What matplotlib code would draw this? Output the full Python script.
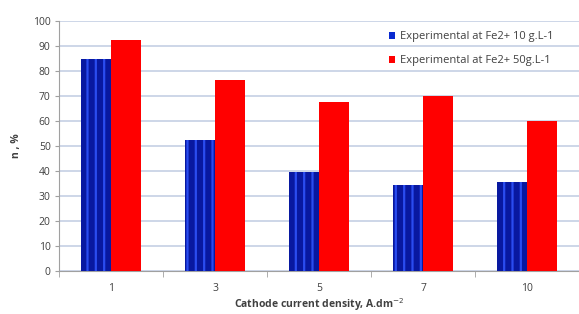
import matplotlib
matplotlib.use("Agg")
import matplotlib.pyplot as plt
import numpy as np
from matplotlib.patches import Patch

categories = ["1", "3", "5", "7", "10"]
fe10 = [85, 52.5, 39.5, 34.5, 35.5]
fe50 = [92.5, 76.5, 67.5, 70, 60]
labels = ["Experimental at Fe2+ 10 g.L-1", "Experimental at Fe2+ 50g.L-1"]

plt.rcParams['font.family'] = ['Open Sans', 'DejaVu Sans']
plt.rcParams['hatch.linewidth'] = 1.6

fig = plt.figure(figsize=(5.79, 3.14), dpi=100)
ax = fig.add_axes([0.102, 0.137, 0.898, 0.796])

x = np.arange(len(categories))
w = 0.29
b1 = ax.bar(x - w/2, fe10, w, color='#0818a0', hatch='||', linewidth=0, zorder=3)
for p in b1:
    p.set_edgecolor('#2a4cf0')
b2 = ax.bar(x + w/2, fe50, w, color='#ff0000', linewidth=0, zorder=3)

ax.set_xlim(-0.5, len(categories) - 0.5)
ax.set_ylim(0, 100)
ax.set_yticks(range(0, 101, 10))
ax.yaxis.grid(True, color='#c5d0e4', linewidth=1.2, zorder=0)
ax.set_axisbelow(True)
ax.set_xticks(x)
ax.set_xticklabels(categories)
ax.set_xticks(np.arange(-0.5, len(categories)), minor=True)
ax.tick_params(axis='x', which='major', length=0, pad=9, labelsize=7.5, colors='#404040')
ax.tick_params(axis='x', which='minor', length=4, color='#a0a0a0')
ax.tick_params(axis='y', length=3, color='#a0a0a0', labelsize=7.5, labelcolor='#404040', pad=3)
for s in ['top', 'right']:
    ax.spines[s].set_visible(False)
ax.spines['left'].set_color('#a0a0a0')
ax.spines['bottom'].set_color('#a0a0a0')

ax.set_ylabel("n , %", fontsize=7.5, fontweight='bold', color='#404040', labelpad=8)
ax.set_xlabel("Cathode current density, A.dm$^{-2}$", fontsize=7.5, fontweight='bold', color='#404040', labelpad=1)

h1 = Patch(facecolor='#0a2ad0', edgecolor='none')
h2 = Patch(facecolor='#ff0000', edgecolor='none')
ax.legend([h1, h2], labels, loc='upper left', bbox_to_anchor=(0.615, 1.0), frameon=False,
          fontsize=8, handlelength=0.6, handleheight=0.6, handletextpad=0.4, labelspacing=1.2,
          labelcolor='#404040')

fig.savefig("out.png", dpi=100)
